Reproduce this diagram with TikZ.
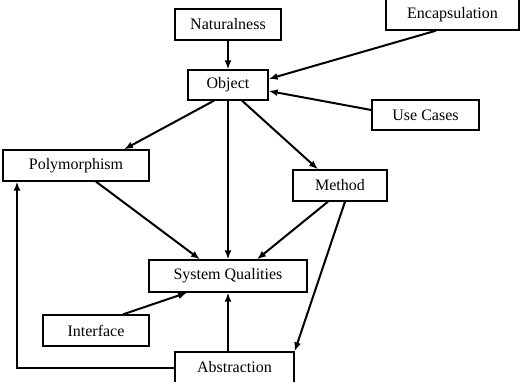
\documentclass[tikz,border=0pt]{standalone}
\usepackage{fontspec}
\setmainfont{Liberation Serif}
\usetikzlibrary{arrows.meta,calc}

\begin{document}
\begin{tikzpicture}[
  x=1pt,y=-1pt,
  font=\fontsize{16}{19}\selectfont,
  box/.style={rectangle,draw=black,line width=1.3pt,fill=white,
              minimum height=31pt,inner sep=2pt,align=center},
  arr/.style={-{Latex[length=9pt,width=7pt]},line width=2pt,black},
]
\useasboundingbox (0,0) rectangle (523,381);

% concept boxes
\node[box,minimum width=106pt] (nat)  at (228,24.5)  {Naturalness};
\node[box,minimum width=133pt] (enc)  at (452.5,14.5) {Encapsulation};
\node[box,minimum width=80pt,minimum height=30pt] (obj) at (228,85) {Object};
\node[box,minimum width=107pt,minimum height=30pt] (use) at (425.5,115) {Use Cases};
\node[box,minimum width=146pt] (poly) at (76,165.5)  {Polymorphism};
\node[box,minimum width=94pt]  (meth) at (340,185.5) {Method};
\node[box,minimum width=158pt,minimum height=32pt] (sq) at (228,276) {System Qualities};
\node[box,minimum width=106pt] (intf) at (96,330.5)  {Interface};
\node[box,minimum width=119pt] (abs)  at (234.5,367.5) {Abstraction};

% into Object
\draw[arr] (nat.south) -- (obj.north);
\draw[arr] ([xshift=-16.5pt]enc.south) -- ([yshift=6pt]obj.east);
\draw[arr] ([yshift=5pt]use.west) -- ([yshift=-6pt]obj.east);

% out of Object
\draw[arr] ([xshift=-14pt]obj.south) -- ([xshift=48pt]poly.north);
\draw[arr] (obj.south) -- (sq.north);
\draw[arr] ([xshift=14pt]obj.south) -- ([xshift=-22pt]meth.north);

% into System Qualities
\draw[arr] ([xshift=20pt]poly.south) -- ([xshift=-28pt]sq.north);
\draw[arr] ([xshift=-12pt]meth.south) -- ([xshift=29pt]sq.north);
\draw[arr] ([xshift=27pt]intf.north) -- ([xshift=-41pt]sq.south);
\draw[arr] (abs.north -| sq.south) -- (sq.south);

% Abstraction links
\draw[arr] ([xshift=5pt]meth.south) -- (abs.north east);
\draw[arr] (abs.west) -| ([xshift=-59pt]poly.south);
\end{tikzpicture}
\end{document}
